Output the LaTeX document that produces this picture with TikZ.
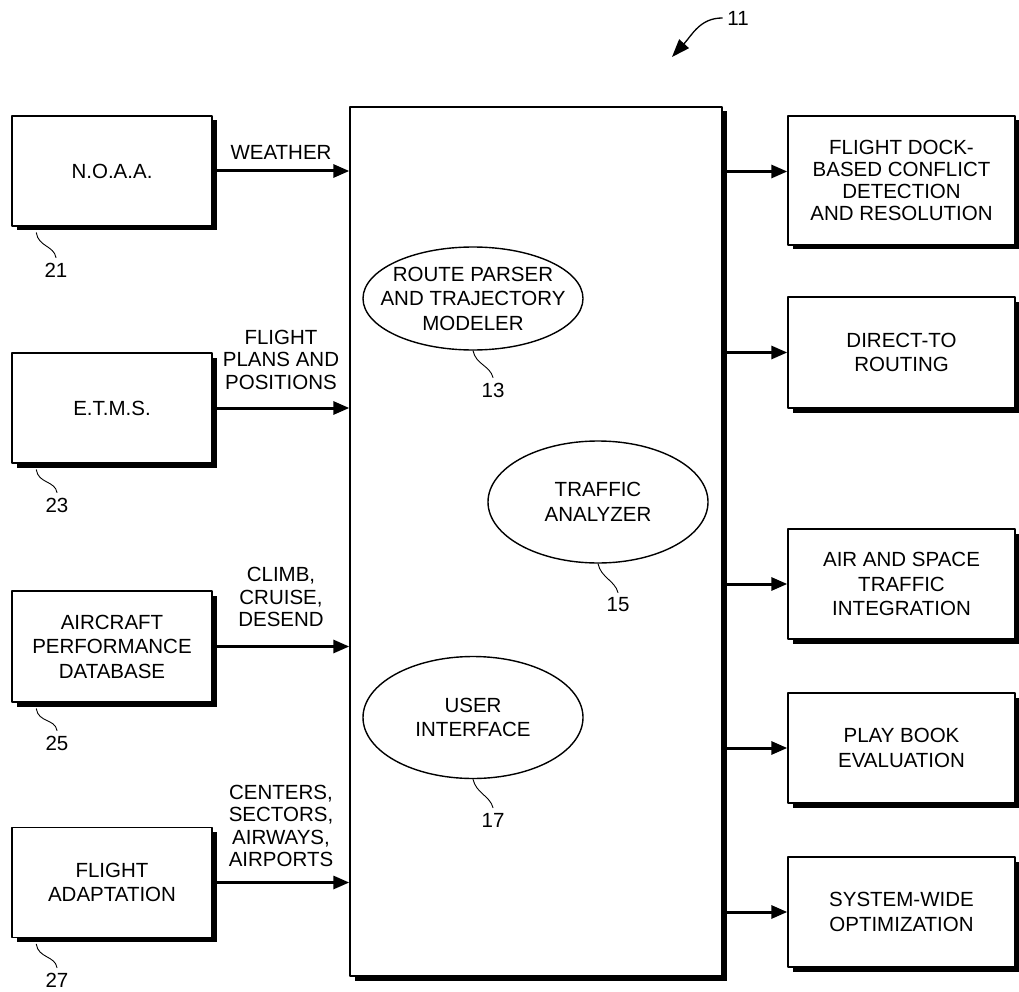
\documentclass[tikz,border=0pt]{standalone}
\usepackage{fontspec}
\setmainfont{Liberation Sans}
\usepackage{tikz}
\usetikzlibrary{arrows.meta}
\usetikzlibrary{positioning}
\usetikzlibrary{shapes.geometric}
\usetikzlibrary{shadows}

\newcommand{\diagfont}{\fontsize{20.5}{24.5}\selectfont}
\newcommand{\flowfont}{\fontsize{20.5}{22.5}\selectfont}

\begin{document}
\begin{tikzpicture}[line cap=round,line join=round,>={Triangle[length=16pt,width=13pt]},x=1pt,y=-1pt,
  box/.style={draw,line width=1.4pt,fill=white,align=center,inner sep=0pt,font=\diagfont,
    drop shadow={shadow xshift=4.5pt,shadow yshift=-4.5pt,fill=black,opacity=1}},
  srcbox/.style={box,minimum width=200pt,minimum height=110pt},
  appbox/.style={box,minimum width=227pt,minimum height=110pt},
  module/.style={ellipse,draw,line width=1.4pt,align=center,font=\diagfont,
    inner xsep=-40pt,inner ysep=-10pt,minimum width=220pt,minimum height=122pt},
  flow/.style={->,line width=3pt,line cap=butt},
  flowtag/.style={inner sep=0pt,align=center,font=\flowfont},
  refnum/.style={inner sep=5pt,font=\diagfont},
  leader/.style={line width=0.9pt}]
\useasboundingbox (0,0) rectangle (1019,992);

% central system
\node[box,minimum width=372pt,minimum height=869pt] (core) at (536,541.5) {};
\node[module,minimum height=103pt] (route) at (473,298.5) {ROUTE PARSER\\AND TRAJECTORY\\MODELER};
\node[module] (traffic) at (598,502) {TRAFFIC\\ANALYZER};
\node[module] (ui) at (473,717.5) {USER\\INTERFACE};

% data sources
\node[srcbox] (noaa) at (112,171) {N.O.A.A.};
\node[srcbox] (etms) at (112,408) {E.T.M.S.};
\node[srcbox,minimum height=111pt] (perf) at (112,646.5) {AIRCRAFT\\PERFORMANCE\\DATABASE};
\node[srcbox] (adapt) at (112,882.5) {FLIGHT\\ADAPTATION};

% applications
\node[appbox,minimum height=129pt,font=\fontsize{20.5}{22}\selectfont] (dock) at (901.5,180.5) {FLIGHT DOCK-\\BASED CONFLICT\\DETECTION\\AND RESOLUTION};
\node[appbox,minimum height=111pt] (direct) at (901.5,352.5) {DIRECT-TO\\ROUTING};
\node[appbox] (space) at (901.5,584) {AIR AND SPACE\\TRAFFIC\\INTEGRATION};
\node[appbox] (playbook) at (901.5,748) {PLAY BOOK\\EVALUATION};
\node[appbox] (optim) at (901.5,912) {SYSTEM-WIDE\\OPTIMIZATION};

% inputs
\draw[flow] (noaa.east) -- (noaa.east -| core.west) node[flowtag,midway,above=10pt] {WEATHER};
\draw[flow] (etms.east) -- (etms.east -| core.west) node[flowtag,midway,above=17pt] {FLIGHT\\PLANS AND\\POSITIONS};
\draw[flow] (perf.east) -- (perf.east -| core.west) node[flowtag,midway,above=18pt] {CLIMB,\\CRUISE,\\DESEND};
\draw[flow] (adapt.east) -- (adapt.east -| core.west) node[flowtag,midway,above=14pt] {CENTERS,\\SECTORS,\\AIRWAYS,\\AIRPORTS};

% outputs
\coordinate (dockin) at ([yshift=9pt]dock.west);
\draw[flow] (core.east |- dockin) -- (dockin);
\draw[flow] (core.east |- direct.west) -- (direct.west);
\draw[flow] (core.east |- space.west) -- (space.west);
\draw[flow] (core.east |- playbook.west) -- (playbook.west);
\draw[flow] (core.east |- optim.west) -- (optim.west);

% reference numerals
\node[refnum] (t11) at (738,18) {11};
\node[refnum] (t13) at (493,390) {13};
\node[refnum] (t15) at (618,605) {15};
\node[refnum] (t17) at (493,820) {17};
\node[refnum] (t21) at (56,270) {21};
\node[refnum] (t23) at (57,505) {23};
\node[refnum] (t25) at (57,743) {25};
\node[refnum] (t27) at (57,980) {27};

\coordinate (sys) at (672,57);
\draw[line width=1.3pt,-{Triangle[length=18pt,width=13pt]}] (t11.west) .. controls +(-22,0) and +(20,-22) .. (sys);
\draw[leader] (route.south) .. controls +(3,14) and +(-3,-12) .. (t13.north);
\draw[leader] (traffic.south) .. controls +(3,14) and +(-3,-12) .. (t15.north);
\draw[leader] (ui.south) .. controls +(3,14) and +(-3,-12) .. (t17.north);
\draw[leader] ([xshift=25pt,yshift=-6pt]noaa.south west) .. controls +(2,14) and +(-2,-12) .. (t21.north);
\draw[leader] ([xshift=25pt,yshift=-6pt]etms.south west) .. controls +(2,14) and +(-2,-12) .. (t23.north);
\draw[leader] ([xshift=25pt,yshift=-6pt]perf.south west) .. controls +(2,14) and +(-2,-12) .. (t25.north);
\draw[leader] ([xshift=25pt,yshift=-6pt]adapt.south west) .. controls +(2,14) and +(-2,-12) .. (t27.north);
\end{tikzpicture}
\end{document}
